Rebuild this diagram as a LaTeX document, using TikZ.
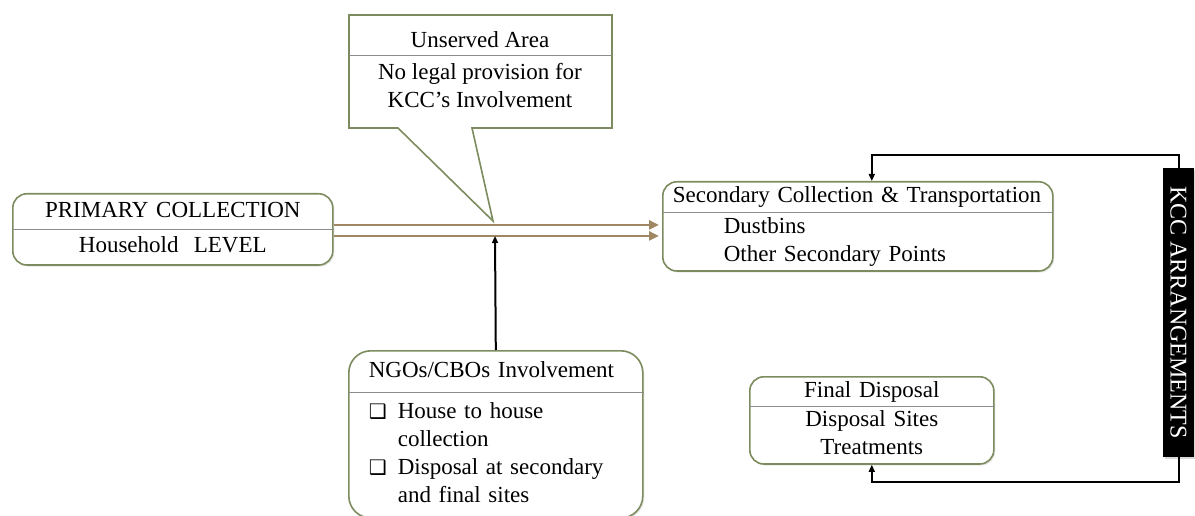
\documentclass[tikz,border=0pt]{standalone}
\usepackage{fontspec}
\setmainfont{Liberation Serif}
\newfontfamily\symfont{DejaVu Sans}
\usepackage{graphicx}
\usetikzlibrary{shapes.multipart,arrows.meta,shadows}

\definecolor{boxgreen}{RGB}{125,140,95}
\definecolor{flowbrown}{RGB}{160,135,100}

\newcommand{\boxbullet}{\makebox[29pt][l]{\symfont\fontsize{20}{28}\selectfont ❑}}
\newcommand{\bulletgap}{\hspace*{29pt}}

\tikzset{
  splitbox/.style={rectangle split, rectangle split parts=2,
    rectangle split draw splits=false, draw=boxgreen, line width=1.6pt,
    rounded corners=14pt, fill=white, font=\fontsize{23}{28}\selectfont,
    drop shadow={opacity=0.2, shadow xshift=1.5pt, shadow yshift=-1.5pt}},
  divider/.style={draw=black!45, line width=0.8pt},
  callout/.style={draw=boxgreen, line width=1.6pt, fill=white},
  label/.style={font=\fontsize{23}{28}\selectfont, inner sep=0pt},
  flow/.style={draw=flowbrown, line width=2.5pt, shorten >=3pt,
    -{Triangle[length=10pt,width=9pt]}},
  link/.style={draw=black, line width=2pt,
    -{Triangle[length=7pt,width=6pt]}},
  kccbox/.style={fill=black, text=white, minimum width=31pt,
    minimum height=289pt, inner sep=0pt, font=\fontsize{24}{28}\selectfont,
    drop shadow={opacity=0.3}},
}

\begin{document}
\begin{tikzpicture}[x=1pt,y=-1pt]
\useasboundingbox (0,0) rectangle (1195,516);

% unserved area callout
\draw[callout] (349,15) -- (612,15) -- (612,128) -- (472,128) -- (493,221)
  -- (398,128) -- (349,128) -- cycle;
\coordinate (tip) at (493,221);
\draw[divider] (349,55) -- (612,55);
\node[label] (unserved) at (480,40) {Unserved Area};
\node[label, align=center] (nolegal) at (480,86) {No legal provision for\\KCC's Involvement};

% boxes
\node[splitbox, anchor=north west, text width=300pt, inner xsep=10pt,
  inner ysep=3pt, align=center] (prim) at (12,193)
  {\strut PRIMARY COLLECTION \nodepart{two}\strut Household\ \ LEVEL};
\draw[divider] (prim.one split west) -- (prim.one split east);

\node[splitbox, anchor=north west, text width=370pt, inner xsep=10pt,
  inner ysep=0.5pt, align=left] (sec) at (662,181)
  {\strut\mbox{Secondary Collection \& Transportation}
   \nodepart{two}\strut\hspace*{51pt}Dustbins\\\hspace*{51pt}Other Secondary Points\strut};
\draw[divider] (sec.one split west) -- (sec.one split east);

\node[splitbox, anchor=north west, text width=224pt, inner xsep=10pt,
  inner ysep=0pt, align=center] (fin) at (749,376)
  {\strut Final Disposal \nodepart{two}\strut Disposal Sites\\Treatments\strut};
\draw[divider] (fin.one split west) -- (fin.one split east);

\node[splitbox, anchor=north west, text width=254pt, inner xsep=20pt,
  inner ysep=6pt, align=left, rounded corners=22pt] (ngo) at (348,350)
  {\strut NGOs/CBOs Involvement
   \nodepart{two}\strut\boxbullet House to house\\\bulletgap collection\\
   \boxbullet Disposal at secondary\\\bulletgap and final sites\strut};
\draw[divider] (ngo.one split west) -- (ngo.one split east);

\node[kccbox] (kcc) at (1178.5,312.5) {\rotatebox{-90}{KCC ARRANGEMENTS}};

% connectors
\draw[flow] ([yshift=4.5pt]prim.east) -- ([yshift=4.5pt]prim.east -| sec.west);
\draw[flow] ([yshift=-6.5pt]prim.east) -- ([yshift=-6.5pt]prim.east -| sec.west);
\coordinate (join) at (495,236);
\draw[link] (ngo.north) -- (join);
\draw[link] (kcc.north) -- ++(0,-13) -| (sec.north -| fin.north);
\draw[link] (kcc.south) -- ++(0,25) -| (fin.south);
\end{tikzpicture}
\end{document}
